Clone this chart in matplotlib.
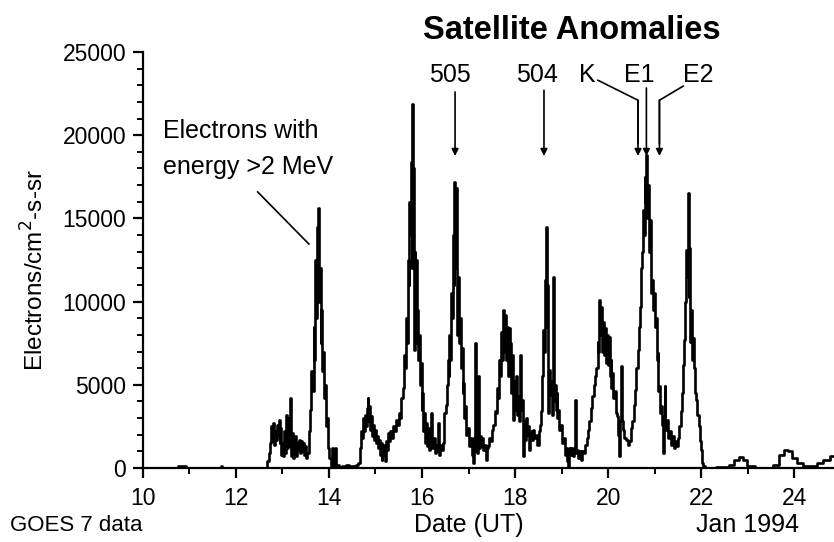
import matplotlib
matplotlib.use('Agg')
import matplotlib.pyplot as plt
from matplotlib.ticker import MultipleLocator

plt.rcParams['font.family'] = ['Liberation Sans', 'DejaVu Sans']

# GOES 7 electrons > 2 MeV, Jan 1994
day = [10.00, 10.75, 10.78, 10.92, 10.95, 11.66, 11.69, 11.72, 12.66,
       12.70, 12.72, 12.75, 12.77, 12.79, 12.81, 12.83, 12.85, 12.87, 12.89,
       12.91, 12.93, 12.95, 12.97, 12.99, 13.01, 13.03, 13.05, 13.07, 13.09,
       13.11, 13.13, 13.15, 13.17, 13.19, 13.21, 13.23, 13.25, 13.27, 13.29,
       13.31, 13.33, 13.35, 13.37, 13.39, 13.41, 13.43, 13.45, 13.47, 13.50,
       13.53, 13.55, 13.58, 13.61, 13.64, 13.66, 13.68, 13.70, 13.72, 13.74,
       13.76, 13.77, 13.79, 13.81, 13.83, 13.85, 13.87, 13.89, 13.91, 13.93,
       13.95, 13.97, 13.99, 14.02, 14.05, 14.07, 14.09, 14.12, 14.14, 14.16,
       14.20, 14.25, 14.30, 14.35, 14.40, 14.45, 14.50, 14.55, 14.60, 14.64,
       14.68, 14.70, 14.72, 14.74, 14.76, 14.78, 14.80, 14.82, 14.84, 14.86,
       14.88, 14.90, 14.92, 14.94, 14.96, 14.98, 15.00, 15.02, 15.04, 15.06,
       15.08, 15.10, 15.12, 15.14, 15.16, 15.18, 15.20, 15.22, 15.24, 15.26,
       15.28, 15.30, 15.33, 15.36, 15.39, 15.42, 15.45, 15.48, 15.51, 15.54,
       15.57, 15.60, 15.62, 15.64, 15.66, 15.68, 15.70, 15.72, 15.74, 15.75,
       15.77, 15.78, 15.79, 15.81, 15.82, 15.83, 15.85, 15.86, 15.88, 15.89,
       15.91, 15.92, 15.94, 15.96, 15.98, 16.00, 16.02, 16.04, 16.06, 16.08,
       16.10, 16.12, 16.14, 16.16, 16.18, 16.21, 16.23, 16.26, 16.28, 16.30,
       16.33, 16.35, 16.37, 16.40, 16.43, 16.46, 16.49, 16.52, 16.54, 16.56,
       16.58, 16.60, 16.62, 16.64, 16.66, 16.68, 16.69, 16.70, 16.72, 16.74,
       16.76, 16.78, 16.80, 16.82, 16.84, 16.86, 16.88, 16.90, 16.92, 16.94,
       16.96, 16.99, 17.02, 17.05, 17.08, 17.10, 17.12, 17.14, 17.16, 17.18,
       17.20, 17.21, 17.23, 17.25, 17.28, 17.30, 17.33, 17.36, 17.39, 17.41,
       17.43, 17.46, 17.49, 17.52, 17.55, 17.58, 17.61, 17.63, 17.65, 17.67,
       17.69, 17.71, 17.73, 17.75, 17.77, 17.79, 17.81, 17.83, 17.85, 17.87,
       17.89, 17.91, 17.93, 17.95, 17.97, 17.99, 18.01, 18.03, 18.05, 18.07,
       18.09, 18.11, 18.13, 18.15, 18.17, 18.18, 18.20, 18.22, 18.25, 18.27,
       18.29, 18.32, 18.34, 18.37, 18.40, 18.43, 18.46, 18.49, 18.52, 18.55,
       18.57, 18.59, 18.61, 18.63, 18.65, 18.67, 18.69, 18.70, 18.72, 18.74,
       18.76, 18.78, 18.80, 18.82, 18.84, 18.86, 18.88, 18.90, 18.92, 18.94,
       18.96, 18.99, 19.02, 19.05, 19.08, 19.10, 19.12, 19.14, 19.16, 19.19,
       19.22, 19.25, 19.27, 19.29, 19.31, 19.34, 19.37, 19.40, 19.43, 19.46,
       19.49, 19.52, 19.55, 19.58, 19.61, 19.64, 19.67, 19.70, 19.73, 19.76,
       19.78, 19.80, 19.82, 19.84, 19.86, 19.88, 19.90, 19.92, 19.94, 19.96,
       19.98, 20.00, 20.02, 20.04, 20.06, 20.08, 20.10, 20.12, 20.15, 20.18,
       20.21, 20.23, 20.24, 20.26, 20.29, 20.30, 20.33, 20.36, 20.40, 20.44,
       20.47, 20.50, 20.53, 20.56, 20.59, 20.62, 20.65, 20.67, 20.69, 20.71,
       20.73, 20.75, 20.77, 20.79, 20.81, 20.83, 20.85, 20.87, 20.89, 20.91,
       20.93, 20.95, 20.97, 20.99, 21.01, 21.03, 21.05, 21.07, 21.09, 21.11,
       21.13, 21.15, 21.17, 21.19, 21.21, 21.22, 21.24, 21.27, 21.30, 21.33,
       21.36, 21.39, 21.42, 21.45, 21.48, 21.51, 21.54, 21.57, 21.60, 21.62,
       21.64, 21.66, 21.68, 21.70, 21.72, 21.73, 21.75, 21.77, 21.79, 21.81,
       21.83, 21.86, 21.88, 21.90, 21.93, 21.95, 21.98, 22.00, 22.03, 22.06,
       22.10, 22.55, 22.65, 22.76, 22.87, 22.94, 23.04, 23.26, 23.45, 23.62,
       23.73, 23.83, 23.90, 24.00, 24.10, 24.25, 24.43, 24.54, 24.68, 24.85]

flux = [0, 0, 150, 150, 0, 0, 120, 0, 0,
        400, 900, 1500, 2500, 1600, 2700, 1400, 2200, 1700, 2600,
        1900, 2900, 1500, 2400, 800, 1500, 700, 2200, 900, 3200,
        1200, 3000, 1300, 4200, 700, 2100, 600, 1800, 900, 1900,
        700, 1500, 1100, 1700, 900, 1600, 1000, 1500, 800, 1300,
        600, 900, 2200, 3500, 5800, 4600, 8500, 6500, 12500, 9000,
        14500, 15600, 10000, 12000, 7500, 9500, 5800, 7000, 4200, 5000,
        2500, 3000, 1200, 600, 100, 1200, 0, 200, 1200, 100,
        200, 50, 150, 50, 200, 50, 150, 100, 200, 300,
        1200, 2200, 1800, 3000, 2200, 3200, 2500, 3600, 4200, 2800,
        3700, 2300, 3100, 1900, 2600, 1700, 2300, 1500, 1900, 1200,
        1700, 800, 1500, 500, 1300, 800, 1400, 400, 1600, 1100,
        2100, 1600, 2200, 1800, 2500, 2200, 2900, 2600, 3300, 3000,
        4200, 4800, 6800, 6000, 9000, 7500, 12500, 11000, 16000, 14000,
        18400, 12000, 21900, 13500, 18000, 7100, 13000, 9500, 12500, 7500,
        9500, 6500, 8000, 5000, 6300, 3500, 4500, 2200, 3300, 1500,
        2700, 1300, 2400, 1100, 2000, 3300, 1200, 1800, 900, 1400,
        1000, 2700, 800, 1400, 1100, 1500, 3300, 3800, 5000, 6500,
        5500, 8000, 6500, 10500, 9000, 14000, 11000, 17200, 12000, 16800,
        8000, 11500, 7500, 9000, 6000, 7200, 4500, 5100, 3000, 3700,
        2000, 2400, 1300, 1800, 800, 300, 1800, 7500, 1000, 2100,
        900, 5500, 1200, 1900, 1300, 1800, 1100, 1400, 500, 1200,
        1300, 1800, 1600, 2300, 2600, 3400, 3300, 4800, 4200, 6500,
        5500, 8200, 6500, 9500, 7000, 9200, 6500, 8500, 5500, 8400,
        5800, 7500, 4500, 6800, 2900, 5200, 3500, 5500, 3200, 4300,
        2800, 6800, 3500, 4100, 1500, 700, 2800, 1700, 3000, 2000,
        2500, 1100, 2200, 1700, 2300, 1800, 2000, 1400, 2200, 2600,
        3400, 5500, 8300, 7000, 11300, 14500, 8500, 11000, 3300, 5900,
        4400, 5200, 3200, 11500, 4000, 5000, 3500, 4500, 3000, 3500,
        2300, 2600, 1500, 1800, 800, 1200, 400, 0, 1200, 800,
        1200, 700, 1100, 4100, 900, 1100, 600, 1000, 500, 1000,
        900, 1400, 1800, 2300, 2800, 3600, 4300, 5000, 5500, 6000,
        7600, 7000, 10100, 8000, 9700, 7000, 8800, 6800, 8400, 6300,
        8000, 6200, 7900, 5500, 6500, 4800, 5700, 4200, 4600, 3300,
        3100, 2000, 700, 2800, 6100, 2800, 2300, 1800, 1700, 1400,
        1600, 2400, 2800, 3800, 4700, 6000, 7100, 8500, 9700, 12000,
        13000, 15500, 14000, 17500, 16000, 18800, 15000, 17000, 13000, 14900,
        10500, 11300, 9500, 10500, 8500, 9000, 6500, 6900, 4600, 4900,
        3300, 3700, 2600, 900, 3100, 4900, 2300, 2900, 1800, 2200,
        1400, 1900, 1200, 1600, 1300, 1800, 2500, 3400, 4500, 6200,
        7700, 10000, 13100, 11500, 16500, 10300, 13200, 7600, 9500, 6500,
        7800, 6000, 4500, 4100, 3200, 2500, 1600, 1100, 300, 100,
        0, 50, 200, 500, 650, 480, 120, 30, 30, 180,
        780, 1100, 1000, 580, 320, 120, 120, 280, 480, 700]

# satellite anomaly markers: label, day
events = ['505', '504', 'K', 'E1', 'E2']
event_day = [16.71, 18.62, 20.64, 20.82, 21.10]

W, H = 834, 542
fig = plt.figure(figsize=(W / 100, H / 100), dpi=100)
ax = fig.add_axes([142.7 / W, 74 / H, (W - 142.7) / W, 416 / H])

ax.plot(day, flux, color='k', lw=1.9, drawstyle='steps-mid')

ax.set_xlim(10, 24.85)
ax.set_ylim(0, 25000)
ax.spines['top'].set_visible(False)
ax.spines['right'].set_visible(False)
ax.spines['left'].set_linewidth(1.6)
ax.spines['bottom'].set_linewidth(1.6)
ax.xaxis.set_major_locator(MultipleLocator(2))
ax.xaxis.set_minor_locator(MultipleLocator(1))
ax.yaxis.set_major_locator(MultipleLocator(5000))
ax.yaxis.set_minor_locator(MultipleLocator(1000))
ax.tick_params(which='major', direction='out', length=7, width=1.6, labelsize=16.5, pad=5)
ax.tick_params(which='minor', direction='out', length=4, width=1.4)
ax.tick_params(axis='x', which='major', pad=7)


def fx(px):
    return px / W


def fy(py):
    return 1 - py / H


# title and labels
fig.text(fx(572), fy(39), 'Satellite Anomalies', fontsize=23.5, fontweight='bold',
         ha='center', va='baseline')
fig.text(fx(35), fy(270), 'Electrons/cm$^2$-s-sr', fontsize=17.5, rotation=90,
         ha='center', va='center')
fig.text(fx(10), fy(531), 'GOES 7 data', fontsize=16, ha='left', va='baseline')
fig.text(fx(469), fy(532), 'Date (UT)', fontsize=18, ha='center', va='baseline')
fig.text(fx(748), fy(532), 'Jan 1994', fontsize=18, ha='center', va='baseline')
fig.text(fx(163), fy(138), 'Electrons with', fontsize=18, ha='left', va='baseline')
fig.text(fx(163), fy(174), 'energy >2 MeV', fontsize=18, ha='left', va='baseline')

# pointer to the 13.8 peak
ax.plot([12.47, 13.57], [16590, 13460], color='k', lw=1.2, clip_on=False)

# event labels
label_x = [450, 537, 587, 639, 698]
for name, lx in zip(events, label_x):
    fig.text(fx(lx), fy(82), name, fontsize=18, ha='center', va='baseline')

# leader lines for K and E2
ax.plot([19.78, 20.64, 20.64], [23300, 22100, 19500], color='k', lw=1.2, clip_on=False)
ax.plot([21.61, 21.10, 21.10], [22950, 22100, 19500], color='k', lw=1.2, clip_on=False)

arrow_top = [22600, 22700, 22100, 22840, 22100]
for d, top in zip(event_day, arrow_top):
    ax.annotate('', xy=(d, 18750), xytext=(d, top), annotation_clip=False,
                arrowprops=dict(arrowstyle='-|>', color='k', lw=1.2,
                                mutation_scale=10, shrinkA=0, shrinkB=0))

plt.savefig('out.png', dpi=100)
